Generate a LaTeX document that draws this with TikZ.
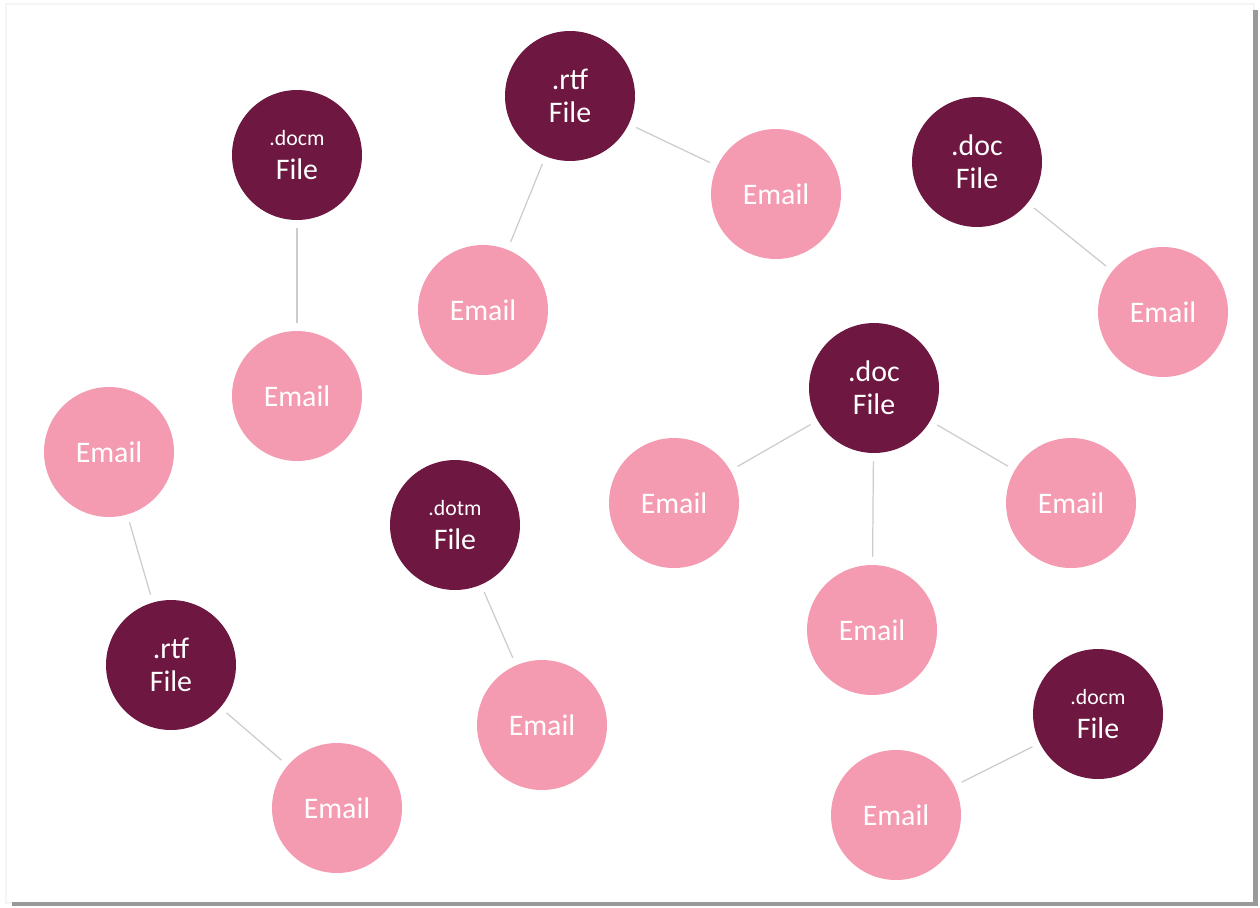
\documentclass[tikz,border=0pt]{standalone}
\usepackage{fontspec}
\setmainfont{Carlito}
\usepackage{tikz}
\usepackage{xcolor}
\definecolor{Bordeaux}{HTML}{6E1740}
\definecolor{Rose}{HTML}{F49AB1}
\definecolor{Trait}{HTML}{CCCCCC}
\tikzset{
Fichier/.style={
 circle, 
 fill=Bordeaux, 
 text=white, 
 minimum size=2.6cm, 
 inner sep=0pt, 
 align=center, 
 font=\fontsize{17}{19}\selectfont
 },
Courriel/.style={
 circle, 
 fill=Rose, 
 text=white, 
 minimum size=2.6cm, 
 inner sep=0pt, 
 font=\fontsize{17}{19}\selectfont
 },
Lien/.style={
 draw=Trait, 
 line width=0.7pt, 
 shorten <=4.5pt, 
 shorten >=4.5pt
 }
}
\newcommand{\Petit}[1]{{\fontsize{12.4}{19}\selectfont #1}}

\begin{document}
\begin{tikzpicture}[x=0.02cm,y=-0.02cm]
\useasboundingbox (0,0) rectangle (1260,907);
% cadre
\fill[black!4] (5,3) rectangle (1255,904);
\fill[black!40] (12,10) rectangle (1258,906);
\fill[white] (7,5) rectangle (1253,902);
% fichiers
\node[Fichier] (docmA) at (297,155) {\Petit{.docm}\\File};
\node[Fichier] (rtfA) at (570,96) {.rtf\\File};
\node[Fichier] (docA) at (977,162) {.doc\\File};
\node[Fichier] (docB) at (874,388) {.doc\\File};
\node[Fichier] (dotm) at (455,525) {\Petit{.dotm}\\File};
\node[Fichier] (rtfB) at (171,665) {.rtf\\File};
\node[Fichier] (docmB) at (1098,714) {\Petit{.docm}\\File};
% courriels
\node[Courriel] (mailA) at (297,396) {Email};
\node[Courriel] (mailB) at (483,310) {Email};
\node[Courriel] (mailC) at (776,194) {Email};
\node[Courriel] (mailD) at (1163,312) {Email};
\node[Courriel] (mailE) at (109,452) {Email};
\node[Courriel] (mailF) at (337,808) {Email};
\node[Courriel] (mailG) at (542,725) {Email};
\node[Courriel] (mailH) at (674,503) {Email};
\node[Courriel] (mailI) at (1071,503) {Email};
\node[Courriel] (mailJ) at (872,630) {Email};
\node[Courriel] (mailK) at (896,815) {Email};
% liens
\draw[Lien] (docmA) -- (mailA);
\draw[Lien] (rtfA) -- (mailB);
\draw[Lien] (rtfA) -- (mailC);
\draw[Lien] (docA) -- (mailD);
\draw[Lien] (mailE) -- (rtfB);
\draw[Lien] (rtfB) -- (mailF);
\draw[Lien] (dotm) -- (mailG);
\draw[Lien] (docB) -- (mailH);
\draw[Lien] (docB) -- (mailI);
\draw[Lien] (docB) -- (mailJ);
\draw[Lien] (docmB) -- (mailK);
\end{tikzpicture}
\end{document}
